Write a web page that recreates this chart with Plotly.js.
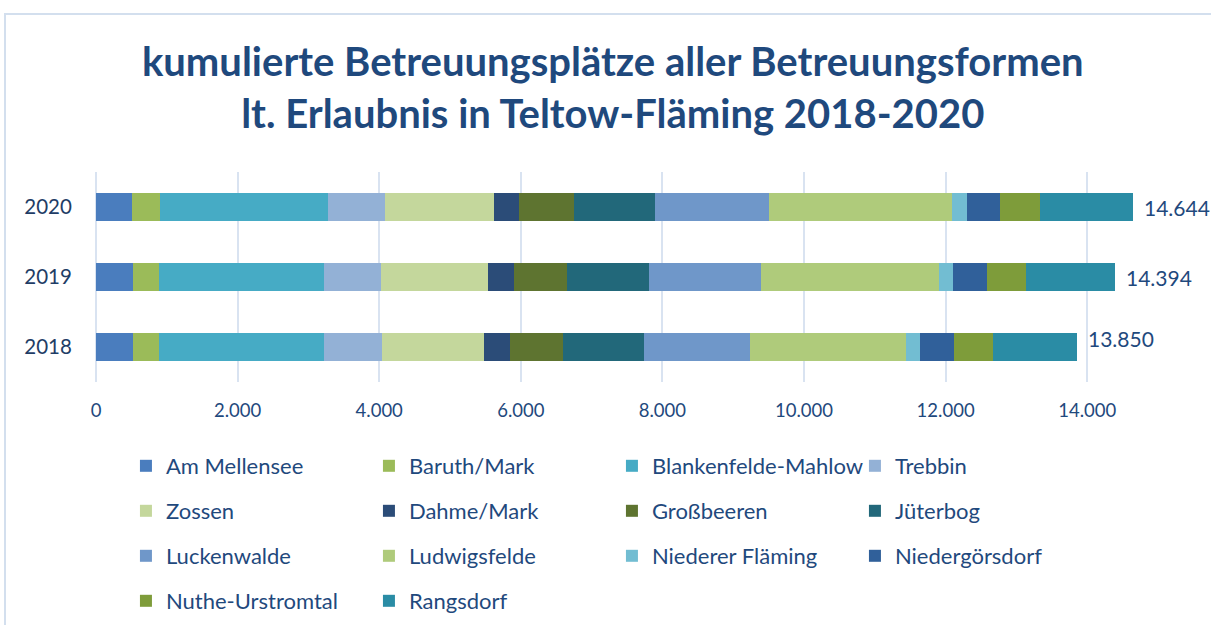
<!DOCTYPE html>
<html>
<head>
<meta charset="utf-8">
<script src="https://cdn.plot.ly/plotly-3.0.1.min.js"></script>
<style>
  html, body { margin: 0; padding: 0; background: #ffffff; }
  #chart { width: 1211px; height: 625px; }
  #frame { position: absolute; left: 4px; top: 13px; width: 1300px; height: 700px;
           border: 2px solid #D3DFEE; pointer-events: none; }
</style>
</head>
<body>
<div id="chart"></div>
<div id="frame"></div>
<script>
// ---- data ----
const years = ['2018', '2019', '2020'];
const places = ['Am Mellensee', 'Baruth/Mark', 'Blankenfelde-Mahlow', 'Trebbin',
                'Zossen', 'Dahme/Mark', 'Großbeeren', 'Jüterbog',
                'Luckenwalde', 'Ludwigsfelde', 'Niederer Fläming', 'Niedergörsdorf',
                'Nuthe-Urstromtal', 'Rangsdorf'];
// values per place for [2018, 2019, 2020]
const amMellensee      = [527, 527, 510];
const baruthMark       = [367, 367, 400];
const blankenfelde     = [2330, 2330, 2372];
const trebbin          = [819, 805, 805];
const zossen           = [1440, 1511, 1539];
const dahmeMark        = [367, 367, 353];
const grossbeeren      = [748, 748, 777];
const jueterbog        = [1144, 1158, 1144];
const luckenwalde      = [1497, 1581, 1605];
const ludwigsfelde     = [2203, 2513, 2588];
const niedererFlaeming = [197, 198, 212];
const niedergoersdorf  = [480, 480, 466];
const nutheUrstromtal  = [551, 551, 565];
const rangsdorf        = [1180, 1258, 1308];
const xTickVals = [0, 2000, 4000, 6000, 8000, 10000, 12000, 14000];

const seriesValues = [amMellensee, baruthMark, blankenfelde, trebbin, zossen, dahmeMark,
                      grossbeeren, jueterbog, luckenwalde, ludwigsfelde, niedererFlaeming,
                      niedergoersdorf, nutheUrstromtal, rangsdorf];
const colors = ['#4A7DBE', '#9BBB59', '#46ABC5', '#93B1D6', '#C4D79C', '#2B4C78',
                '#5E7430', '#22687A', '#6F97C9', '#AFCB7B', '#72BDD2', '#30609A',
                '#7E9C3A', '#2A8CA5'];

const textColor = '#1F497D';
const fontFam = 'Lato, "Open Sans", sans-serif';
const legendNames = ['legend', 'legend2', 'legend3', 'legend4'];

const traces = places.map((p, i) => ({
  type: 'bar',
  orientation: 'h',
  name: p,
  y: years,
  x: seriesValues[i],
  marker: { color: colors[i] },
  legend: legendNames[Math.floor(i / 4)]
}));

const totals = years.map((y, j) => seriesValues.reduce((s, arr) => s + arr[j], 0));
const annotations = years.map((y, j) => ({
  x: totals[j], y: j, xref: 'x', yref: 'y',
  text: totals[j].toLocaleString('de-DE'),
  showarrow: false, xanchor: 'left', xshift: 9, yshift: j === 0 ? 9 : 0,
  font: { family: fontFam, size: 21, color: textColor }
}));

const legendRowY = [0.2544, 0.1824, 0.1104, 0.0384];
const legendBase = (yy) => ({
  orientation: 'h', xref: 'container', yref: 'container',
  x: 0.104, xanchor: 'left', y: yy, yanchor: 'middle',
  entrywidth: 198, entrywidthmode: 'pixels', traceorder: 'normal',
  font: { family: fontFam, size: 22, color: textColor },
  bgcolor: 'rgba(0,0,0,0)'
});

const layout = {
  width: 1211, height: 625,
  paper_bgcolor: '#ffffff', plot_bgcolor: '#ffffff',
  margin: { l: 96, r: 53, t: 172, b: 243, pad: 0 },
  barmode: 'stack',
  bargap: 0.59,
  separators: ',.',
  title: {
    text: 'kumulierte Betreuungsplätze aller Betreuungsformen<br>lt. Erlaubnis in Teltow-Fläming 2018-2020',
    x: 0.506, xanchor: 'center', y: 0.878, yanchor: 'middle', yref: 'container',
    font: { family: fontFam, size: 40, color: textColor, weight: 'bold' }
  },
  xaxis: {
    range: [0, 15000], tickvals: xTickVals, tickformat: ',d',
    showgrid: true, gridcolor: '#D9E3F1', gridwidth: 1.5,
    zeroline: true, zerolinecolor: '#D9E3F1', zerolinewidth: 1.5,
    showline: false, ticks: 'outside', ticklen: 12, tickcolor: 'rgba(0,0,0,0)',
    tickfont: { family: fontFam, size: 18.5, color: textColor }
  },
  yaxis: {
    type: 'category', range: [-0.5, 2.5],
    showgrid: false, zeroline: false, showline: false,
    ticks: 'outside', ticklen: 19, tickcolor: 'rgba(0,0,0,0)',
    tickfont: { family: fontFam, size: 20.5, color: '#1F3D66' }
  },
  annotations: annotations,
  showlegend: true,
  legend: legendBase(legendRowY[0]),
  legend2: legendBase(legendRowY[1]),
  legend3: legendBase(legendRowY[2]),
  legend4: legendBase(legendRowY[3])
};

Plotly.newPlot('chart', traces, layout, { displayModeBar: false });
</script>
</body>
</html>
